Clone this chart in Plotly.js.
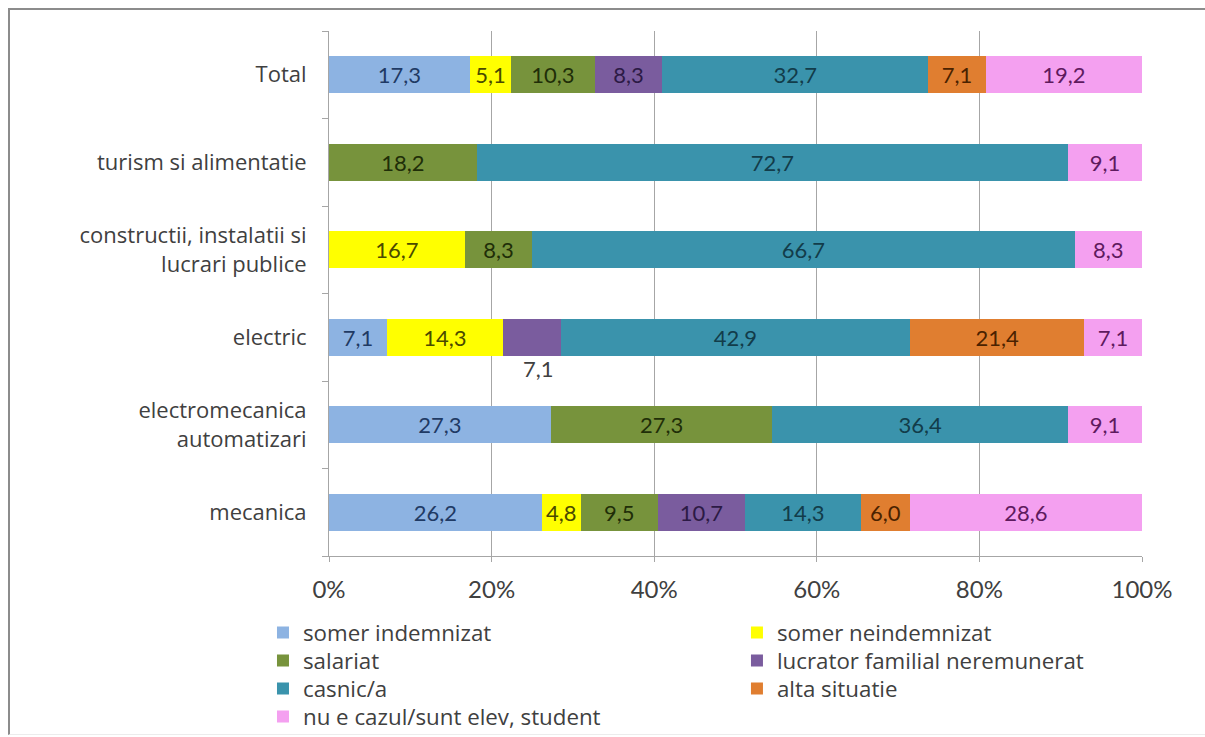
<!DOCTYPE html>
<html>
<head>
<meta charset="utf-8">
<script src="https://cdn.plot.ly/plotly-3.0.1.min.js"></script>
<style>
  html, body { margin:0; padding:0; background:#fff; }
  #wrap { position:relative; width:1205px; height:737px; overflow:hidden; }
  #frame { position:absolute; left:8px; top:8px; width:1197px; height:727px; border-top:2px solid #8c8c8c; border-left:2px solid #8c8c8c; border-bottom:1px solid #ececec; box-sizing:border-box; pointer-events:none; }
  #chart { position:absolute; left:0; top:0; width:1205px; height:737px; }
</style>
</head>
<body>
<div id="wrap">
  <div id="chart"></div>
  <div id="frame"></div>
</div>
<script>
// categories, bottom to top
const categories = [
  'mecanica',
  'electromecanica<br>automatizari',
  'electric',
  'constructii, instalatii si<br>lucrari publice',
  'turism si alimentatie',
  'Total'
];
const seriesNames = [
  'somer indemnizat',
  'somer neindemnizat',
  'salariat',
  'lucrator familial neremunerat',
  'casnic/a',
  'alta situatie',
  'nu e cazul/sunt elev, student'
];
// values per series, in category order (mecanica ... Total)
const somerIndemnizat   = [26.2, 27.3, 7.1, 0,    0,    17.3];
const somerNeindemnizat = [4.8,  0,    14.3, 16.7, 0,    5.1];
const salariat          = [9.5,  27.3, 0,    8.3,  18.2, 10.3];
const lucrator          = [10.7, 0,    7.1,  0,    0,    8.3];
const casnic            = [14.3, 36.4, 42.9, 66.7, 72.7, 32.7];
const altaSituatie      = [6.0,  0,    21.4, 0,    0,    7.1];
const nuECazul          = [28.6, 9.1,  7.1,  8.3,  9.1,  19.2];
const xTickVals  = [0, 20, 40, 60, 80, 100];
const xTickText  = ['0%', '20%', '40%', '60%', '80%', '100%'];

const series = [somerIndemnizat, somerNeindemnizat, salariat, lucrator, casnic, altaSituatie, nuECazul];
const colors = ['#8DB3E2', '#FFFF00', '#77933C', '#7A5C9E', '#3A93AC', '#E07E30', '#F4A0F0'];
const textColors = ['#1F3A64', '#4A4A00', '#1F2E08', '#2C1A45', '#123C4A', '#4A2200', '#5E1A5E'];

// legend grid slot (column, row) of each series, as in the reference
const legendCol = [0, 1, 0, 1, 0, 1, 0];
const legendRow = [0, 0, 1, 1, 2, 2, 3];

const FONT = 'Lato, "Open Sans", sans-serif';
const TXTFONT = '"Open Sans", Lato, sans-serif';

function fmt(v) { return v > 0 ? v.toFixed(1).replace('.', ',') : ''; }

// label drawn below the bar for lucrator in electric
const outsideLabel = {si: 3, ci: 2};

const legendId = si => si === 0 ? 'legend' : 'legend' + (si + 1);

const traces = series.map((vals, si) => ({
  type: 'bar',
  orientation: 'h',
  name: seriesNames[si],
  legend: legendId(si),
  y: categories,
  x: vals,
  text: vals.map((v, ci) => (si === outsideLabel.si && ci === outsideLabel.ci) ? '' : fmt(v)),
  texttemplate: '%{text}',
  textposition: 'inside',
  insidetextanchor: 'middle',
  textangle: 0,
  constraintext: 'none',
  insidetextfont: {family: FONT, size: 22, color: textColors[si]},
  marker: {color: colors[si], line: {width: 0}},
  hoverinfo: 'name+x'
}));

// annotation position for the outside label, from cumulative values
const ci = outsideLabel.ci;
let before = 0, total = 0;
series.forEach((vals, si) => { if (si < outsideLabel.si) before += vals[ci]; total += vals[ci]; });
const midNorm = (before + series[outsideLabel.si][ci] / 2) / total * 100;

const layout = {
  width: 1205,
  height: 737,
  paper_bgcolor: '#fff',
  plot_bgcolor: '#fff',
  margin: {l: 329, r: 63, t: 31, b: 181, autoexpand: false},
  barmode: 'stack',
  barnorm: 'percent',
  bargap: 0.577,
  font: {family: FONT, color: '#404040', size: 21},
  xaxis: {
    range: [0, 100],
    tickmode: 'array',
    tickvals: xTickVals,
    ticktext: xTickText,
    showgrid: true,
    gridcolor: '#A6A6A6',
    gridwidth: 1,
    showline: true,
    linecolor: '#A6A6A6',
    linewidth: 1,
    ticks: 'outside',
    ticklen: 5,
    tickcolor: '#A6A6A6',
    ticklabelstandoff: 7,
    tickfont: {family: FONT, size: 24, color: '#404040'},
    zeroline: false,
    fixedrange: true
  },
  yaxis: {
    type: 'category',
    showline: true,
    linecolor: '#A6A6A6',
    linewidth: 1,
    ticks: 'outside',
    tickson: 'boundaries',
    ticklen: 6,
    tickcolor: '#A6A6A6',
    ticklabelstandoff: 17,
    tickfont: {family: TXTFONT, size: 22, color: '#404040'},
    showgrid: false,
    fixedrange: true
  },
  annotations: [{
    x: midNorm,
    y: categories[ci],
    xref: 'x',
    yref: 'y',
    xshift: 6,
    text: fmt(series[outsideLabel.si][ci]),
    showarrow: false,
    yshift: -31,
    font: {family: FONT, size: 22, color: '#404040'}
  }],
  showlegend: true
};

// one small legend per series, placed on a 2-column grid
const colX = [-0.0812, 0.5018];
const rowY = [-0.1057, -0.159, -0.2124, -0.2657];
series.forEach((_, si) => {
  layout[legendId(si)] = {
    orientation: 'v',
    xanchor: 'left',
    yanchor: 'top',
    x: colX[legendCol[si]],
    y: rowY[legendRow[si]],
    itemwidth: 30,
    font: {family: TXTFONT, size: 22.3, color: '#404040'},
    bgcolor: 'rgba(0,0,0,0)'
  };
});

Plotly.newPlot('chart', traces, layout, {displayModeBar: false});
</script>
</body>
</html>
